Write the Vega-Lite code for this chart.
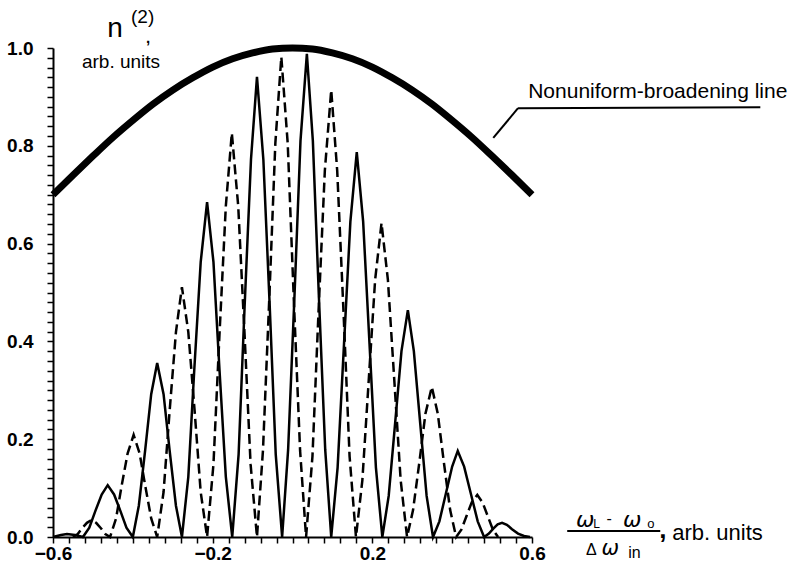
{
  "$schema": "https://vega.github.io/schema/vega-lite/v6.json",
  "autosize": {"type": "none"},
  "padding": {"left": 53, "top": 48, "right": 258, "bottom": 33},
  "width": 479,
  "height": 489,
  "background": "white",
  "config": {
    "view": {"stroke": null},
    "axis": {
      "domainColor": "black", "domainWidth": 2, "tickColor": "black", "tickWidth": 1.5, "tickSize": 6,
      "labelFont": "Liberation Sans", "labelFontWeight": "bold", "labelFontSize": 19, "labelColor": "black",
      "grid": false, "labelOverlap": false, "labelFlush": false, "tickCount": 100
    },
    "text": {"font": "Liberation Sans", "color": "black"}
  },
  "datasets": {
    "envelope": [
      {"x": -0.6, "y": 0.700}, {"x": -0.55, "y": 0.740}, {"x": -0.5, "y": 0.779}, {"x": -0.45, "y": 0.817},
      {"x": -0.4, "y": 0.852}, {"x": -0.35, "y": 0.885}, {"x": -0.3, "y": 0.914}, {"x": -0.25, "y": 0.939},
      {"x": -0.2, "y": 0.961}, {"x": -0.15, "y": 0.978}, {"x": -0.1, "y": 0.990}, {"x": -0.05, "y": 0.998},
      {"x": 0, "y": 1.0}, {"x": 0.05, "y": 0.998}, {"x": 0.1, "y": 0.990}, {"x": 0.15, "y": 0.978},
      {"x": 0.2, "y": 0.961}, {"x": 0.25, "y": 0.939}, {"x": 0.3, "y": 0.914}, {"x": 0.35, "y": 0.885},
      {"x": 0.4, "y": 0.852}, {"x": 0.45, "y": 0.817}, {"x": 0.5, "y": 0.779}, {"x": 0.55, "y": 0.740},
      {"x": 0.6, "y": 0.700}
    ],
    "solid": [
      {"x": -0.6, "y": 0}, {"x": -0.58, "y": 0.004}, {"x": -0.565, "y": 0.006}, {"x": -0.545, "y": 0.004},
      {"x": -0.525, "y": 0}, {"x": -0.509, "y": 0.019}, {"x": -0.494, "y": 0.053}, {"x": -0.478, "y": 0.087}, {"x": -0.463, "y": 0.106}, {"x": -0.447, "y": 0.087}, {"x": -0.431, "y": 0.053}, {"x": -0.416, "y": 0.019},
      {"x": -0.4, "y": 0}, {"x": -0.385, "y": 0.064}, {"x": -0.369, "y": 0.178}, {"x": -0.354, "y": 0.292}, {"x": -0.339, "y": 0.356}, {"x": -0.323, "y": 0.292}, {"x": -0.308, "y": 0.178}, {"x": -0.292, "y": 0.064},
      {"x": -0.277, "y": 0}, {"x": -0.261, "y": 0.123}, {"x": -0.246, "y": 0.343}, {"x": -0.23, "y": 0.562}, {"x": -0.214, "y": 0.685}, {"x": -0.198, "y": 0.562}, {"x": -0.183, "y": 0.343}, {"x": -0.167, "y": 0.123},
      {"x": -0.151, "y": 0}, {"x": -0.135, "y": 0.169}, {"x": -0.12, "y": 0.471}, {"x": -0.104, "y": 0.772}, {"x": -0.089, "y": 0.941}, {"x": -0.073, "y": 0.772}, {"x": -0.057, "y": 0.471}, {"x": -0.042, "y": 0.169},
      {"x": -0.026, "y": 0}, {"x": -0.011, "y": 0.178}, {"x": 0.005, "y": 0.494}, {"x": 0.02, "y": 0.81}, {"x": 0.036, "y": 0.988}, {"x": 0.051, "y": 0.81}, {"x": 0.066, "y": 0.494}, {"x": 0.082, "y": 0.178},
      {"x": 0.097, "y": 0}, {"x": 0.113, "y": 0.142}, {"x": 0.129, "y": 0.394}, {"x": 0.145, "y": 0.645}, {"x": 0.161, "y": 0.787}, {"x": 0.177, "y": 0.645}, {"x": 0.193, "y": 0.394}, {"x": 0.209, "y": 0.142},
      {"x": 0.225, "y": 0}, {"x": 0.241, "y": 0.084}, {"x": 0.257, "y": 0.232}, {"x": 0.273, "y": 0.38}, {"x": 0.289, "y": 0.464}, {"x": 0.304, "y": 0.38}, {"x": 0.32, "y": 0.232}, {"x": 0.336, "y": 0.084},
      {"x": 0.352, "y": 0}, {"x": 0.368, "y": 0.032}, {"x": 0.384, "y": 0.088}, {"x": 0.4, "y": 0.144}, {"x": 0.414, "y": 0.176}, {"x": 0.43, "y": 0.144}, {"x": 0.447, "y": 0.088}, {"x": 0.464, "y": 0.032},
      {"x": 0.48, "y": 0}, {"x": 0.492, "y": 0.007}, {"x": 0.503, "y": 0.017}, {"x": 0.514, "y": 0.026}, {"x": 0.525, "y": 0.029}, {"x": 0.537, "y": 0.025}, {"x": 0.55, "y": 0.016}, {"x": 0.565, "y": 0.007}, {"x": 0.58, "y": 0.002}, {"x": 0.595, "y": 0}
    ],
    "dashed": [
      {"x": -0.55, "y": 0}, {"x": -0.538, "y": 0.006}, {"x": -0.527, "y": 0.018}, {"x": -0.515, "y": 0.029}, {"x": -0.503, "y": 0.035}, {"x": -0.492, "y": 0.029}, {"x": -0.48, "y": 0.018}, {"x": -0.469, "y": 0.006},
      {"x": -0.457, "y": 0}, {"x": -0.442, "y": 0.038}, {"x": -0.428, "y": 0.105}, {"x": -0.413, "y": 0.171}, {"x": -0.398, "y": 0.209}, {"x": -0.383, "y": 0.171}, {"x": -0.369, "y": 0.105}, {"x": -0.354, "y": 0.038},
      {"x": -0.339, "y": 0}, {"x": -0.323, "y": 0.092}, {"x": -0.308, "y": 0.256}, {"x": -0.292, "y": 0.419}, {"x": -0.277, "y": 0.511}, {"x": -0.261, "y": 0.419}, {"x": -0.245, "y": 0.256}, {"x": -0.23, "y": 0.092},
      {"x": -0.214, "y": 0}, {"x": -0.198, "y": 0.149}, {"x": -0.183, "y": 0.413}, {"x": -0.167, "y": 0.677}, {"x": -0.152, "y": 0.826}, {"x": -0.136, "y": 0.677}, {"x": -0.12, "y": 0.413}, {"x": -0.105, "y": 0.149},
      {"x": -0.089, "y": 0}, {"x": -0.074, "y": 0.177}, {"x": -0.058, "y": 0.491}, {"x": -0.043, "y": 0.805}, {"x": -0.028, "y": 0.982}, {"x": -0.012, "y": 0.805}, {"x": 0.003, "y": 0.491}, {"x": 0.019, "y": 0.177},
      {"x": 0.034, "y": 0}, {"x": 0.05, "y": 0.165}, {"x": 0.065, "y": 0.457}, {"x": 0.081, "y": 0.749}, {"x": 0.097, "y": 0.914}, {"x": 0.112, "y": 0.749}, {"x": 0.128, "y": 0.457}, {"x": 0.143, "y": 0.165},
      {"x": 0.159, "y": 0}, {"x": 0.175, "y": 0.116}, {"x": 0.191, "y": 0.321}, {"x": 0.207, "y": 0.526}, {"x": 0.223, "y": 0.642}, {"x": 0.239, "y": 0.526}, {"x": 0.255, "y": 0.321}, {"x": 0.271, "y": 0.116},
      {"x": 0.287, "y": 0}, {"x": 0.302, "y": 0.055}, {"x": 0.318, "y": 0.154}, {"x": 0.333, "y": 0.252}, {"x": 0.349, "y": 0.307}, {"x": 0.364, "y": 0.252}, {"x": 0.379, "y": 0.154}, {"x": 0.395, "y": 0.055},
      {"x": 0.41, "y": 0}, {"x": 0.423, "y": 0.015}, {"x": 0.436, "y": 0.043}, {"x": 0.449, "y": 0.071}, {"x": 0.463, "y": 0.086}, {"x": 0.476, "y": 0.071}, {"x": 0.489, "y": 0.043}, {"x": 0.502, "y": 0.015}, {"x": 0.515, "y": 0}
    ]
  },
  "layer": [
    {
      "data": {"name": "dashed"},
      "mark": {"type": "line", "color": "black", "strokeWidth": 2.5, "strokeDash": [10, 5]},
      "encoding": {
        "x": {"field": "x", "type": "quantitative",
              "scale": {"domain": [-0.6, 0.6], "nice": false, "zero": false},
              "axis": {"title": null, "labelOverlap": false, "labelBound": false, "labelFlush": false, "tickCount": 100,
                       "values": [-0.6,-0.56,-0.52,-0.48,-0.44,-0.4,-0.36,-0.32,-0.28,-0.24,-0.2,-0.16,-0.12,-0.08,-0.04,0,0.04,0.08,0.12,0.16,0.2,0.24,0.28,0.32,0.36,0.4,0.44,0.48,0.52,0.56,0.6],
                       "labelExpr": "(round(datum.value*100)+100) % 40 == 0 ? format(datum.value, '.1f') : ''",
                       "labelPadding": 1}},
        "y": {"field": "y", "type": "quantitative",
              "scale": {"domain": [0, 1], "nice": false, "zero": false},
              "axis": {"title": null, "labelOverlap": false, "labelBound": false, "labelFlush": false, "tickCount": 100,
                       "values": [0,0.02,0.04,0.06,0.08,0.1,0.12,0.14,0.16,0.18,0.2,0.22,0.24,0.26,0.28,0.3,0.32,0.34,0.36,0.38,0.4,0.42,0.44,0.46,0.48,0.5,0.52,0.54,0.56,0.58,0.6,0.62,0.64,0.66,0.68,0.7,0.72,0.74,0.76,0.78,0.8,0.82,0.84,0.86,0.88,0.9,0.92,0.94,0.96,0.98,1],
                       "labelExpr": "round(datum.value*100) % 20 == 0 ? format(datum.value, '.1f') : ''",
                       "labelPadding": 14}}
      }
    },
    {
      "data": {"name": "solid"},
      "mark": {"type": "line", "color": "black", "strokeWidth": 2.5},
      "encoding": {
        "x": {"field": "x", "type": "quantitative"},
        "y": {"field": "y", "type": "quantitative"}
      }
    },
    {
      "data": {"name": "envelope"},
      "mark": {"type": "line", "color": "black", "strokeWidth": 7, "interpolate": "monotone"},
      "encoding": {
        "x": {"field": "x", "type": "quantitative"},
        "y": {"field": "y", "type": "quantitative"}
      }
    },
    {
      "data": {"values": [{}]},
      "mark": {"type": "rule", "color": "black", "strokeWidth": 2},
      "encoding": {"x": {"datum": 0.503}, "y": {"datum": 0.816}, "x2": {"datum": 0.565}, "y2": {"datum": 0.877}}
    },
    {
      "data": {"values": [{}]},
      "mark": {"type": "rule", "color": "black", "strokeWidth": 2},
      "encoding": {"x": {"datum": 0.565}, "y": {"datum": 0.877}, "x2": {"datum": 1.172}, "y2": {"datum": 0.879}}
    },
    {
      "data": {"values": [{}]},
      "mark": {"type": "text", "text": "Nonuniform-broadening line", "fontSize": 21, "align": "left", "baseline": "alphabetic"},
      "encoding": {"x": {"datum": 0.5905}, "y": {"datum": 0.8978}}
    },
    {
      "data": {"values": [{}]},
      "mark": {"type": "text", "text": "n", "fontSize": 28, "align": "center", "baseline": "alphabetic"},
      "encoding": {"x": {"datum": -0.4446}, "y": {"datum": 1.0225}}
    },
    {
      "data": {"values": [{}]},
      "mark": {"type": "text", "text": "(2)", "fontSize": 19, "align": "left", "baseline": "alphabetic"},
      "encoding": {"x": {"datum": -0.4045}, "y": {"datum": 1.0511}}
    },
    {
      "data": {"values": [{}]},
      "mark": {"type": "text", "text": ",", "fontSize": 15, "fontWeight": "bold", "align": "center", "baseline": "alphabetic"},
      "encoding": {"x": {"datum": -0.3619}, "y": {"datum": 1.0102}}
    },
    {
      "data": {"values": [{}]},
      "mark": {"type": "text", "text": "arb. units", "fontSize": 19, "align": "center", "baseline": "alphabetic"},
      "encoding": {"x": {"datum": -0.4296}, "y": {"datum": 0.959}}
    },
    {
      "data": {"values": [{}]},
      "mark": {"type": "text", "text": "ω", "font": "DejaVu Sans", "fontStyle": "italic", "fontSize": 22, "align": "center", "baseline": "alphabetic"},
      "encoding": {"x": {"datum": 0.7333}, "y": {"datum": 0.0204}}
    },
    {
      "data": {"values": [{}]},
      "mark": {"type": "text", "text": "L", "fontSize": 12, "align": "left", "baseline": "alphabetic"},
      "encoding": {"x": {"datum": 0.7534}, "y": {"datum": 0.0184}}
    },
    {
      "data": {"values": [{}]},
      "mark": {"type": "text", "text": "-", "fontSize": 16, "align": "center", "baseline": "alphabetic"},
      "encoding": {"x": {"datum": 0.7935}, "y": {"datum": 0.0266}}
    },
    {
      "data": {"values": [{}]},
      "mark": {"type": "text", "text": "ω", "font": "DejaVu Sans", "fontStyle": "italic", "fontSize": 22, "align": "center", "baseline": "alphabetic"},
      "encoding": {"x": {"datum": 0.8511}, "y": {"datum": 0.0204}}
    },
    {
      "data": {"values": [{}]},
      "mark": {"type": "text", "text": "o", "fontSize": 13, "align": "left", "baseline": "alphabetic"},
      "encoding": {"x": {"datum": 0.8887}, "y": {"datum": 0.0184}}
    },
    {
      "data": {"values": [{}]},
      "mark": {"type": "rule", "color": "black", "strokeWidth": 2},
      "encoding": {"x": {"datum": 0.6882}, "y": {"datum": 0.0123}, "x2": {"datum": 0.9213}, "y2": {"datum": 0.0123}}
    },
    {
      "data": {"values": [{}]},
      "mark": {"type": "text", "text": "Δ", "fontSize": 16, "align": "center", "baseline": "alphabetic"},
      "encoding": {"x": {"datum": 0.7484}, "y": {"datum": -0.0368}}
    },
    {
      "data": {"values": [{}]},
      "mark": {"type": "text", "text": "ω", "font": "DejaVu Sans", "fontStyle": "italic", "fontSize": 21, "align": "center", "baseline": "alphabetic"},
      "encoding": {"x": {"datum": 0.796}, "y": {"datum": -0.0368}}
    },
    {
      "data": {"values": [{}]},
      "mark": {"type": "text", "text": "in", "fontSize": 16, "align": "left", "baseline": "alphabetic"},
      "encoding": {"x": {"datum": 0.8411}, "y": {"datum": -0.0429}}
    },
    {
      "data": {"values": [{}]},
      "mark": {"type": "text", "text": ",", "fontSize": 26, "fontWeight": "bold", "align": "left", "baseline": "alphabetic"},
      "encoding": {"x": {"datum": 0.9188}, "y": {"datum": -0.002}}
    },
    {
      "data": {"values": [{}]},
      "mark": {"type": "text", "text": "arb. units", "fontSize": 22, "align": "left", "baseline": "alphabetic"},
      "encoding": {"x": {"datum": 0.9514}, "y": {"datum": -0.0061}}
    }
  ]
}
